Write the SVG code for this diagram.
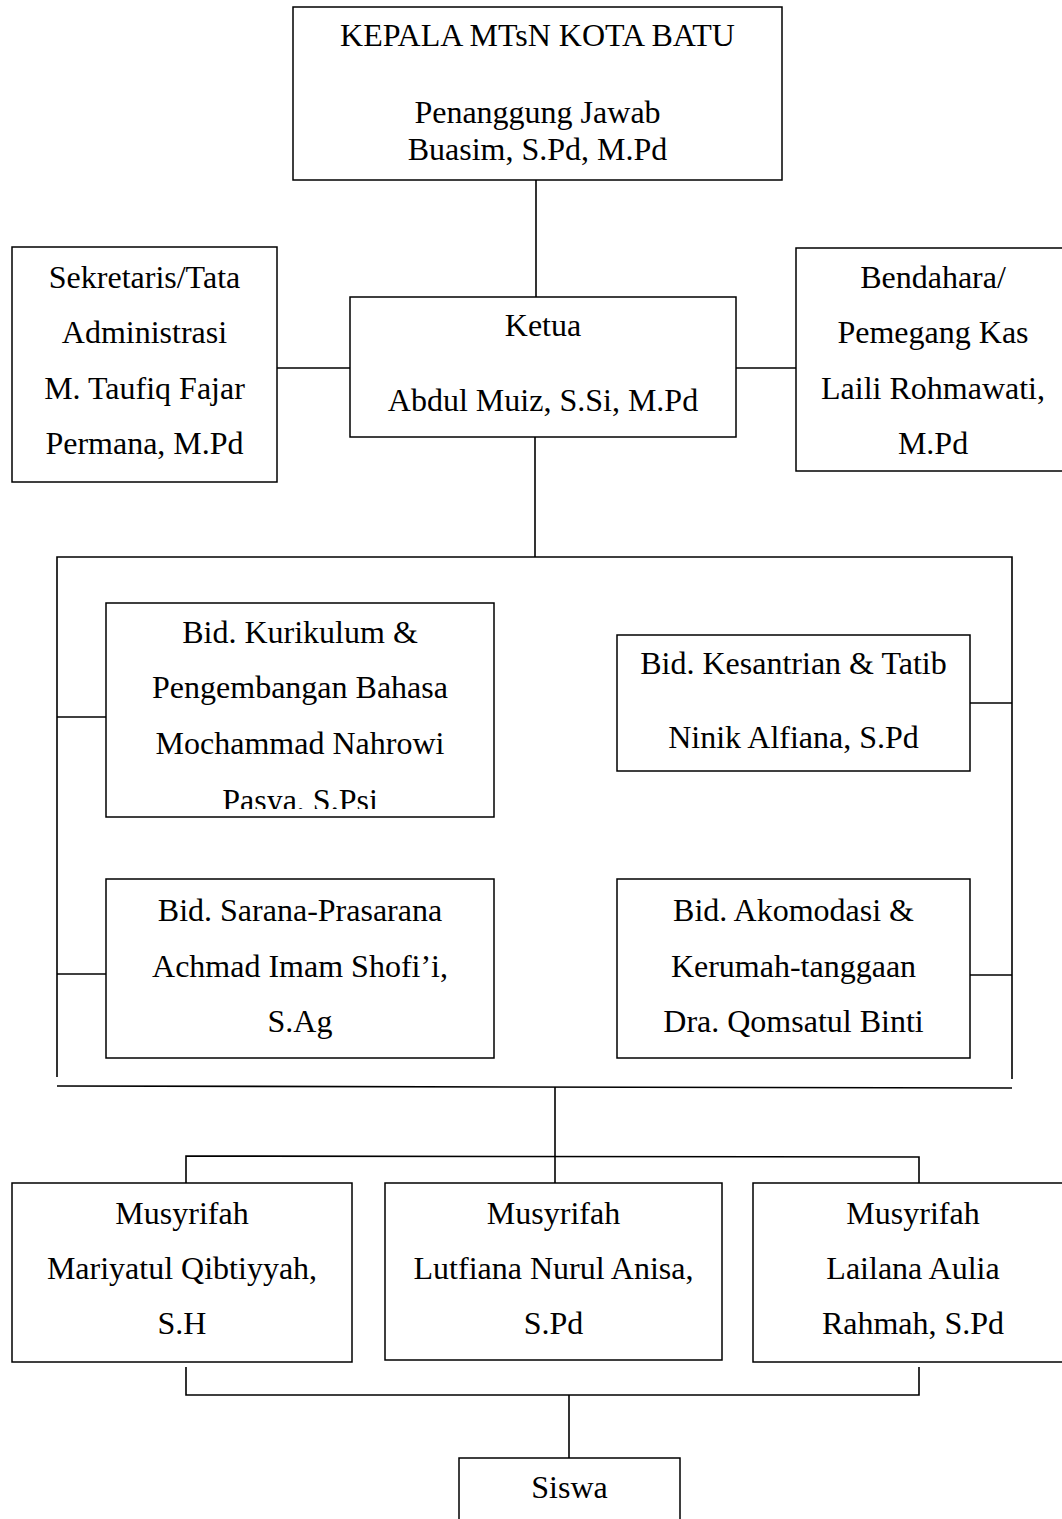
<svg xmlns="http://www.w3.org/2000/svg" width="1062" height="1519" viewBox="0 0 1062 1519">
  <style>
    .box { fill: #ffffff; stroke: #000000; stroke-width: 1.5; }
    .ln { fill: none; stroke: #000000; stroke-width: 1.6; }
    text { font-family: "Liberation Serif", "Times New Roman", serif; font-size: 32px; fill: #000000; text-anchor: middle; }
  </style>
  <defs>
    <clipPath id="clipKurikulum">
      <rect x="106" y="603" width="388" height="206"/>
    </clipPath>
  </defs>
  <rect width="1062" height="1519" fill="#ffffff"/>

  <!-- connectors -->
  <g id="connectors">
    <line class="ln" x1="536" y1="180" x2="536" y2="297"/>
    <line class="ln" x1="277" y1="368" x2="350" y2="368"/>
    <line class="ln" x1="736" y1="368" x2="796" y2="368"/>
    <line class="ln" x1="535" y1="437" x2="535" y2="557"/>
    <!-- frame around the four divisions -->
    <polyline class="ln" points="57,1077 57,557 1012,557 1012,1079"/>
    <line class="ln" x1="57" y1="717" x2="106" y2="717"/>
    <line class="ln" x1="57" y1="974" x2="106" y2="974"/>
    <line class="ln" x1="970" y1="703" x2="1012" y2="703"/>
    <line class="ln" x1="970" y1="975" x2="1012" y2="975"/>
    <line class="ln" x1="57" y1="1086" x2="1012" y2="1088"/>
    <!-- branch to the musyrifah boxes -->
    <line class="ln" x1="555" y1="1087" x2="555" y2="1183"/>
    <polyline class="ln" points="186,1183 186,1156 919,1157 919,1183"/>
    <!-- join to siswa -->
    <polyline class="ln" points="186,1367 186,1395 919,1395 919,1367"/>
    <line class="ln" x1="569" y1="1395" x2="569" y2="1458"/>
  </g>

  <g id="kepala">
    <rect class="box" x="293" y="7" width="489" height="173"/>
    <text x="537.5" y="46">KEPALA MTsN KOTA BATU</text>
    <text x="537.5" y="123">Penanggung Jawab</text>
    <text x="537.5" y="160">Buasim, S.Pd, M.Pd</text>
  </g>

  <g id="sekretaris">
    <rect class="box" x="12" y="247" width="265" height="235"/>
    <text x="144.5" y="288">Sekretaris/Tata</text>
    <text x="144.5" y="343">Administrasi</text>
    <text x="144.5" y="399">M. Taufiq Fajar</text>
    <text x="144.5" y="454">Permana, M.Pd</text>
  </g>

  <g id="ketua">
    <rect class="box" x="350" y="297" width="386" height="140"/>
    <text x="543" y="336">Ketua</text>
    <text x="543" y="411">Abdul Muiz, S.Si, M.Pd</text>
  </g>

  <g id="bendahara">
    <rect class="box" x="796" y="248" width="274" height="223"/>
    <text x="933" y="288">Bendahara/</text>
    <text x="933" y="343">Pemegang Kas</text>
    <text x="933" y="399">Laili Rohmawati,</text>
    <text x="933" y="454">M.Pd</text>
  </g>

  <g id="kurikulum">
    <rect class="box" x="106" y="603" width="388" height="214"/>
    <text x="300" y="643">Bid. Kurikulum &amp;</text>
    <text x="300" y="698">Pengembangan Bahasa</text>
    <text x="300" y="754">Mochammad Nahrowi</text>
    <text x="300" y="811" clip-path="url(#clipKurikulum)">Pasya, S.Psi</text>
  </g>

  <g id="kesantrian">
    <rect class="box" x="617" y="635" width="353" height="136"/>
    <text x="793.5" y="674">Bid. Kesantrian &amp; Tatib</text>
    <text x="793.5" y="748">Ninik Alfiana, S.Pd</text>
  </g>

  <g id="sarana">
    <rect class="box" x="106" y="879" width="388" height="179"/>
    <text x="300" y="921">Bid. Sarana-Prasarana</text>
    <text x="300" y="977">Achmad Imam Shofi’i,</text>
    <text x="300" y="1032">S.Ag</text>
  </g>

  <g id="akomodasi">
    <rect class="box" x="617" y="879" width="353" height="179"/>
    <text x="793.5" y="921">Bid. Akomodasi &amp;</text>
    <text x="793.5" y="977">Kerumah-tanggaan</text>
    <text x="793.5" y="1032">Dra. Qomsatul Binti</text>
  </g>

  <g id="musyrifah1">
    <rect class="box" x="12" y="1183" width="340" height="179"/>
    <text x="182" y="1224">Musyrifah</text>
    <text x="182" y="1279">Mariyatul Qibtiyyah,</text>
    <text x="182" y="1334">S.H</text>
  </g>

  <g id="musyrifah2">
    <rect class="box" x="385" y="1183" width="337" height="177"/>
    <text x="553.5" y="1224">Musyrifah</text>
    <text x="553.5" y="1279">Lutfiana Nurul Anisa,</text>
    <text x="553.5" y="1334">S.Pd</text>
  </g>

  <g id="musyrifah3">
    <rect class="box" x="753" y="1183" width="320" height="179"/>
    <text x="913" y="1224">Musyrifah</text>
    <text x="913" y="1279">Lailana Aulia</text>
    <text x="913" y="1334">Rahmah, S.Pd</text>
  </g>

  <g id="siswa">
    <rect class="box" x="459" y="1458" width="221" height="80"/>
    <text x="569.5" y="1498">Siswa</text>
  </g>
</svg>
